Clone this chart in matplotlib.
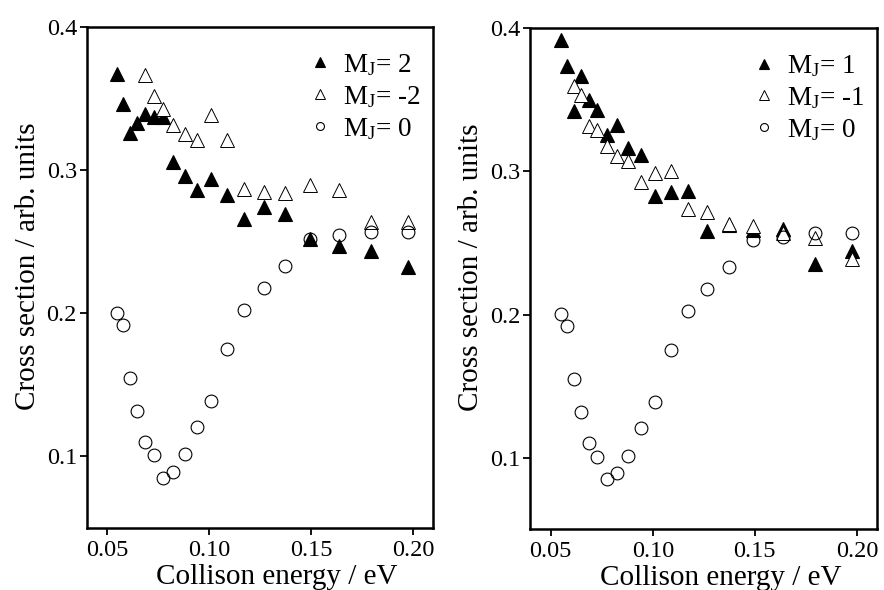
import matplotlib

matplotlib.use("Agg")
import matplotlib.pyplot as plt  # noqa: E402
from matplotlib.ticker import FormatStrFormatter  # noqa: E402

plt.rcParams["font.family"] = "Liberation Serif"
plt.rcParams["mathtext.fontset"] = "custom"
plt.rcParams["mathtext.rm"] = "Liberation Serif"
plt.rcParams["mathtext.it"] = "Liberation Serif:italic"

# collision energies (eV), shared by all series
energy = [0.0548, 0.0578, 0.0613, 0.0647, 0.0685, 0.0727, 0.0775, 0.0824, 0.0880,
          0.0940, 0.1010, 0.1087, 0.1172, 0.1267, 0.1371, 0.1493, 0.1637, 0.1796,
          0.1975]

# M_J = 0 (same in both panels)
mj0 = [0.2002, 0.1921, 0.1548, 0.1317, 0.1100, 0.1007, 0.0853, 0.0895, 0.1015,
       0.1205, 0.1386, 0.1750, 0.2027, 0.2178, 0.2333, 0.2522, 0.2545, 0.2572,
       0.2572]

# left panel: M_J = 2 (all energies), M_J = -2 (from 5th energy on)
mj2 = [0.3676, 0.3462, 0.3257, 0.3327, 0.3396, 0.3373, 0.3373, 0.3058, 0.2958,
       0.2865, 0.2942, 0.2825, 0.2662, 0.2743, 0.2697, 0.2522, 0.2469, 0.2437,
       0.2324]
mjm2 = [0.3664, 0.3517, 0.3431, 0.3315, 0.3250, 0.3210, 0.3385, 0.3210, 0.2872,
        0.2848, 0.2844, 0.2895, 0.2860, 0.2639, 0.2639]

# right panel: M_J = 1 (all energies), M_J = -1 (from 3rd energy on)
mj1 = [0.3916, 0.3736, 0.3419, 0.3664, 0.3496, 0.3426, 0.3256, 0.3326, 0.3162,
       0.3118, 0.2830, 0.2854, 0.2866, 0.2585, 0.2627, 0.2592, 0.2601, 0.2352,
       0.2445]
mjm1 = [0.3594, 0.3531, 0.3314, 0.3291, 0.3181, 0.3111, 0.3076, 0.2924, 0.2987,
        0.3006, 0.2737, 0.2718, 0.2630, 0.2620, 0.2569, 0.2538, 0.2387]

XTICKS = [0.05, 0.10, 0.15, 0.20]
YTICKS = [0.1, 0.2, 0.3, 0.4]


def _panel(ax, pos, neg, neg_start, lab_pos, lab_neg):
    ax.plot(energy, pos, ls="none", marker="^", ms=10.5, mfc="black",
            mec="black", mew=0.8, label=lab_pos)
    ax.plot(energy[neg_start:], neg, ls="none", marker="^", ms=10.5, mfc="white",
            mec="black", mew=0.7, label=lab_neg)
    ax.plot(energy, mj0, ls="none", marker="o", ms=9.2, mfc="none",
            mec="black", mew=0.8, label=r"M$_\mathrm{J}$= 0")
    ax.set_xlim(0.0398, 0.2097)
    ax.set_ylim(0.05, 0.40)
    ax.set_xticks(XTICKS)
    ax.set_yticks(YTICKS)
    ax.xaxis.set_major_formatter(FormatStrFormatter("%.2f"))
    ax.yaxis.set_major_formatter(FormatStrFormatter("%.1f"))
    ax.tick_params(direction="out", length=5, width=1.3, labelsize=17.5,
                   pad=2, top=False, right=False)
    ax.tick_params(axis="x", pad=3.5)
    for sp in ax.spines.values():
        sp.set_linewidth(1.8)
    ax.set_xlabel("Collison energy / eV", fontsize=21, labelpad=2)
    ax.set_ylabel("Cross section / arb. units", fontsize=21, labelpad=4)
    # labels sit a little off-centre in the original
    ax.xaxis.label.set_x(0.55)
    ax.yaxis.label.set_y(0.523)
    ax.legend(loc="upper right", frameon=False, fontsize=19.5, markerscale=0.62,
              handlelength=1.0, handletextpad=0.35, labelspacing=0.22,
              borderaxespad=0.0, bbox_to_anchor=(0.997, 0.972))


fig = plt.figure(figsize=(8.84, 5.90), dpi=100)
ax1 = fig.add_axes([0.098, 0.105, 0.3915, 0.849])
ax2 = fig.add_axes([0.5995, 0.103, 0.3922, 0.849])
_panel(ax1, mj2, mjm2, 4, r"M$_\mathrm{J}$= 2", r"M$_\mathrm{J}$= -2")
_panel(ax2, mj1, mjm1, 2, r"M$_\mathrm{J}$= 1", r"M$_\mathrm{J}$= -1")
fig.savefig("out.png", dpi=100, facecolor="white")
